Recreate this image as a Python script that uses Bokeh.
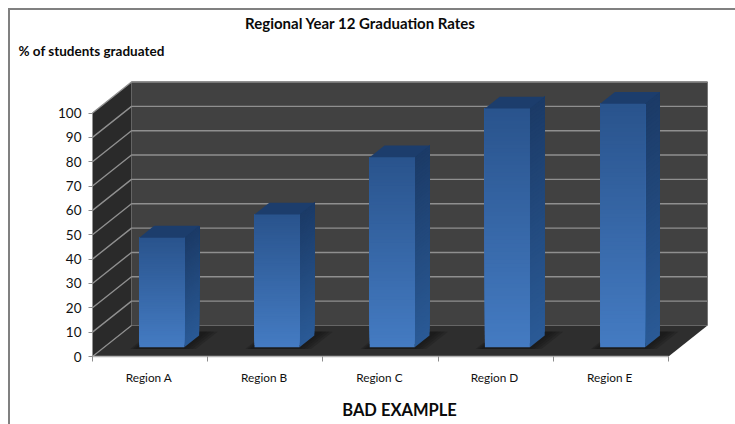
from bokeh.embed import file_html
from bokeh.models import FixedTicker, Label, Range1d
from bokeh.plotting import figure
from bokeh.resources import INLINE

# Chart content
regions = ["Region A", "Region B", "Region C", "Region D", "Region E"]
rates = [45, 54.5, 78, 98, 100]
y_ticks = [0, 10, 20, 30, 40, 50, 60, 70, 80, 90, 100]

# Page size and where the data origin falls on the page
WIDTH, HEIGHT = 735, 424
ORIGIN_X, ORIGIN_Y = 92, 356

# Scale: pixels per data unit, and the oblique shift of full chart depth in data units
PX_X = 115.2
PX_Y = 2.435
DEPTH_X = 39 / PX_X
DEPTH_Y = 31 / PX_Y
BAR_WIDTH = 45 / PX_X
DEPTH_NEAR = 0.3
DEPTH_FAR = 0.68
STRIPS = 60


def lerp_hex(a, b, t):
    ca = [int(a[i:i + 2], 16) for i in (1, 3, 5)]
    cb = [int(b[i:i + 2], 16) for i in (1, 3, 5)]
    return "#" + "".join(f"{round(u + (v - u) * t):02x}" for u, v in zip(ca, cb))


def project(x, y, d):
    return x + d * DEPTH_X, y + d * DEPTH_Y


def face(pts):
    return [q[0] for q in pts], [q[1] for q in pts]


n = len(regions)
RULE = "#808080"
bar = f"linear-gradient({RULE},{RULE})"
# The frame fills the page; both axes are pinned at the data origin inside it
p = figure(width=WIDTH, height=HEIGHT, output_backend="svg", toolbar_location=None,
           x_range=Range1d(-ORIGIN_X / PX_X, (WIDTH - ORIGIN_X) / PX_X),
           y_range=Range1d(-(HEIGHT - ORIGIN_Y) / PX_Y, ORIGIN_Y / PX_Y),
           min_border_left=0, min_border_right=0, min_border_top=0, min_border_bottom=0,
           background_fill_color=None, border_fill_color=None, outline_line_color=None,
           # Grey rules along the top and left of the sheet
           styles={"background-color": "white",
                   "background-image": f"{bar},{bar}",
                   "background-size": "727px 2px,2px 416px",
                   "background-position": "8px 7.5px,7.5px 8px",
                   "background-repeat": "no-repeat"})
p.grid.visible = False

# Back wall, side wall and floor
WALL_BACK, WALL_SIDE, FLOOR = "#414141", "#2a2a2a", "#2e2e2e"
xs, ys = face([project(0, 0, 1), project(n, 0, 1), project(n, 100, 1), project(0, 100, 1)])
p.patch(xs, ys, fill_color=WALL_BACK, line_color=None)
xs, ys = face([project(0, 0, 0), project(0, 0, 1), project(0, 100, 1), project(0, 100, 0)])
p.patch(xs, ys, fill_color=WALL_SIDE, line_color=None)
xs, ys = face([project(0, 0, 0), project(n, 0, 0), project(n, 0, 1), project(0, 0, 1)])
p.patch(xs, ys, fill_color=FLOOR, line_color=None)

# Gridlines run along the side wall and then across the back wall
GRID = "#8f8f8f"
for t in y_ticks[1:]:
    a, b, c = project(0, t, 0), project(0, t, 1), project(n, t, 1)
    p.line([a[0], b[0], c[0]], [a[1], b[1], c[1]], line_color=GRID, line_width=1.4)
a, b = project(0, 0, 0), project(0, 0, 1)
p.line([a[0], b[0]], [a[1], b[1]], line_color=GRID, line_width=1.2)

# Faint edge round the top and right of the back wall
a, b, c = project(0, 100, 1), project(n, 100, 1), project(n, 0, 1)
p.line([a[0], b[0], c[0]], [a[1], b[1], c[1]], line_color="#777777", line_width=1)

# One column per region
for i, rate in enumerate(rates):
    left = i + 0.5 - BAR_WIDTH / 2
    right = left + BAR_WIDTH

    # Soft contact shadow on the floor
    for grow in (0.12, 0.09, 0.06, 0.03):
        xs, ys = face([project(left - grow * 0.5, 0, DEPTH_NEAR - 0.06),
                       project(right + grow, 0, DEPTH_NEAR - 0.06),
                       project(right + grow, 0, min(DEPTH_FAR + 0.12, 1)),
                       project(left - grow * 0.5, 0, min(DEPTH_FAR + 0.12, 1))])
        p.patch(xs, ys, fill_color="#141414", fill_alpha=0.28, line_color=None)

    # Shading climbs each column: every strip overpaints from its own base to the column top
    for s in range(STRIPS):
        y0 = rate * s / STRIPS
        side = lerp_hex("#2a5a96", "#1b3a66", s / STRIPS)
        xs, ys = face([project(right, y0, DEPTH_NEAR), project(right, y0, DEPTH_FAR),
                       project(right, rate, DEPTH_FAR), project(right, rate, DEPTH_NEAR)])
        p.patch(xs, ys, fill_color=side, line_color=None)
    for s in range(STRIPS):
        y0 = rate * s / STRIPS
        front = lerp_hex("#447bc2", "#29538c", s / STRIPS)
        xs, ys = face([project(left, y0, DEPTH_NEAR), project(right, y0, DEPTH_NEAR),
                       project(right, rate, DEPTH_NEAR), project(left, rate, DEPTH_NEAR)])
        p.patch(xs, ys, fill_color=front, line_color=None)

    # Top face
    xs, ys = face([project(left, rate, DEPTH_NEAR), project(right, rate, DEPTH_NEAR),
                   project(right, rate, DEPTH_FAR), project(left, rate, DEPTH_FAR)])
    p.patch(xs, ys, fill_color="#1c3d6c", line_color=None)

# Value axis
yaxis = p.yaxis[0]
yaxis.fixed_location = 0
yaxis.ticker = FixedTicker(ticks=y_ticks)
yaxis.bounds = (0, 100)
yaxis.axis_line_color = None
yaxis.major_tick_line_color = "#8c8c8c"
yaxis.major_tick_out = 4
yaxis.major_tick_in = 0
yaxis.minor_tick_line_color = None
yaxis.major_label_standoff = 7
yaxis.major_label_text_font = "Lato"
yaxis.major_label_text_font_size = "13.5px"
yaxis.major_label_text_color = "#111111"

# Category axis: labels sit mid-category, tick marks on the category boundaries
xaxis = p.xaxis[0]
xaxis.fixed_location = 0
centers = [i + 0.49 for i in range(n)]
xaxis.ticker = FixedTicker(ticks=centers, minor_ticks=list(range(n + 1)))
xaxis.major_label_overrides = dict(zip(centers, regions))
xaxis.bounds = (0, n)
xaxis.axis_line_color = "#b4b4b4"
xaxis.axis_line_width = 1.4
xaxis.major_tick_line_color = None
xaxis.minor_tick_line_color = "#8c8c8c"
xaxis.minor_tick_out = 5
xaxis.minor_tick_in = 0
xaxis.major_label_standoff = 7
xaxis.major_label_text_font = "Lato"
xaxis.major_label_text_font_size = "11.8px"
xaxis.major_label_text_color = "#111111"

# Titles and notes, placed by their position on the page
for text, x, y, size, align in [
    ("Regional Year 12 Graduation Rates", 360, 22, "15px", "center"),
    ("% of students graduated", 18, 50, "13.5px", "left"),
    ("BAD EXAMPLE", 399, 409, "16.5px", "center"),
]:
    p.add_layout(Label(x=x, y=HEIGHT - y, x_units="screen", y_units="screen", text=text,
                       text_font="Lato", text_font_size=size, text_font_style="bold",
                       text_color="#0a0a0a", text_align=align, text_baseline="middle"))

open("out.html", "w").write(file_html(p, INLINE))
